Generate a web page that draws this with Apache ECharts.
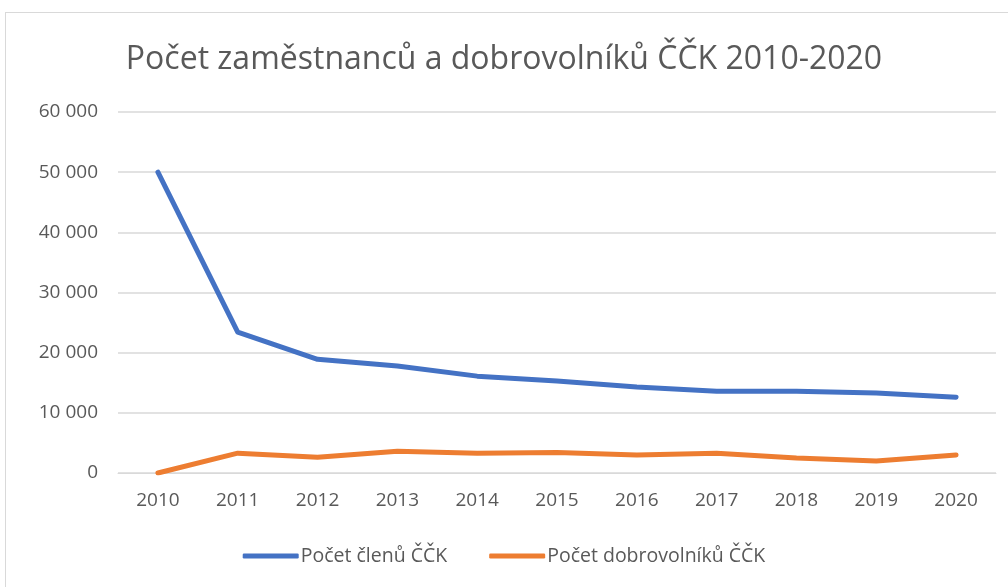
<!DOCTYPE html>
<html>
<head>
<meta charset="utf-8">
<script src="https://cdn.jsdelivr.net/npm/echarts@6/dist/echarts.min.js"></script>
<style>
    html, body { margin: 0; padding: 0; background: #fff; }
    #frame {
        position: absolute; left: 5px; top: 12px;
        width: 1010px; height: 580px;
        border: 1px solid #d9d9d9; box-sizing: border-box;
    }
    #chart { position: absolute; left: 0; top: 0; width: 1008px; height: 587px; }
</style>
</head>
<body>
<div id="frame"></div>
<div id="chart"></div>
<script>
    // roky
    const years = ['2010', '2011', '2012', '2013', '2014', '2015', '2016', '2017', '2018', '2019', '2020'];
    // Počet členů ČČK
    const members = [50000, 23400, 18900, 17800, 16100, 15300, 14300, 13600, 13600, 13300, 12600];
    // Počet dobrovolníků ČČK
    const volunteers = [0, 3300, 2600, 3600, 3300, 3400, 3000, 3300, 2500, 2000, 3000];

    const font = 'Open Sans, Noto Sans, sans-serif';
    const textColor = '#595959';

    var myChart = echarts.init(document.getElementById('chart'));
    myChart.setOption({
        animation: false,
        title: {
            text: 'Počet zaměstnanců a dobrovolníků ČČK 2010-2020',
            left: 'center',
            top: 39,
            textStyle: {
                color: textColor,
                fontFamily: font,
                fontSize: 32,
                fontWeight: 'normal'
            }
        },
        legend: {
            bottom: 16,
            left: 'center',
            itemWidth: 56,
            itemHeight: 5,
            itemGap: 42,
            icon: 'roundRect',
            textStyle: { color: textColor, fontFamily: font, fontSize: 19.5, padding: [0, 0, 0, -3] },
            data: ['Počet členů ČČK', 'Počet dobrovolníků ČČK']
        },
        grid: {
            top: 112,
            left: 118,
            right: 12,
            bottom: 114
        },
        xAxis: {
            type: 'category',
            data: years,
            boundaryGap: true,
            axisLine: { show: true, lineStyle: { color: '#d9d9d9' } },
            axisTick: { show: false },
            axisLabel: { color: textColor, fontFamily: font, fontSize: 19, margin: 18 }
        },
        yAxis: {
            type: 'value',
            min: 0,
            max: 60000,
            interval: 10000,
            axisLine: { show: false },
            axisTick: { show: false },
            splitLine: { lineStyle: { color: '#d9d9d9', width: 1.5 } },
            axisLabel: {
                color: textColor,
                fontFamily: font,
                fontSize: 19,
                margin: 20,
                formatter: (v) => v === 0 ? '0' : String(v / 1000) + ' 000'
            }
        },
        series: [
            {
                name: 'Počet členů ČČK',
                type: 'line',
                data: members,
                symbol: 'none',
                lineStyle: { color: '#4472C4', width: 5, cap: 'round', join: 'round' },
                itemStyle: { color: '#4472C4' }
            },
            {
                name: 'Počet dobrovolníků ČČK',
                type: 'line',
                data: volunteers,
                symbol: 'none',
                lineStyle: { color: '#ED7D31', width: 5, cap: 'round', join: 'round' },
                itemStyle: { color: '#ED7D31' }
            }
        ]
    });
</script>
</body>
</html>
